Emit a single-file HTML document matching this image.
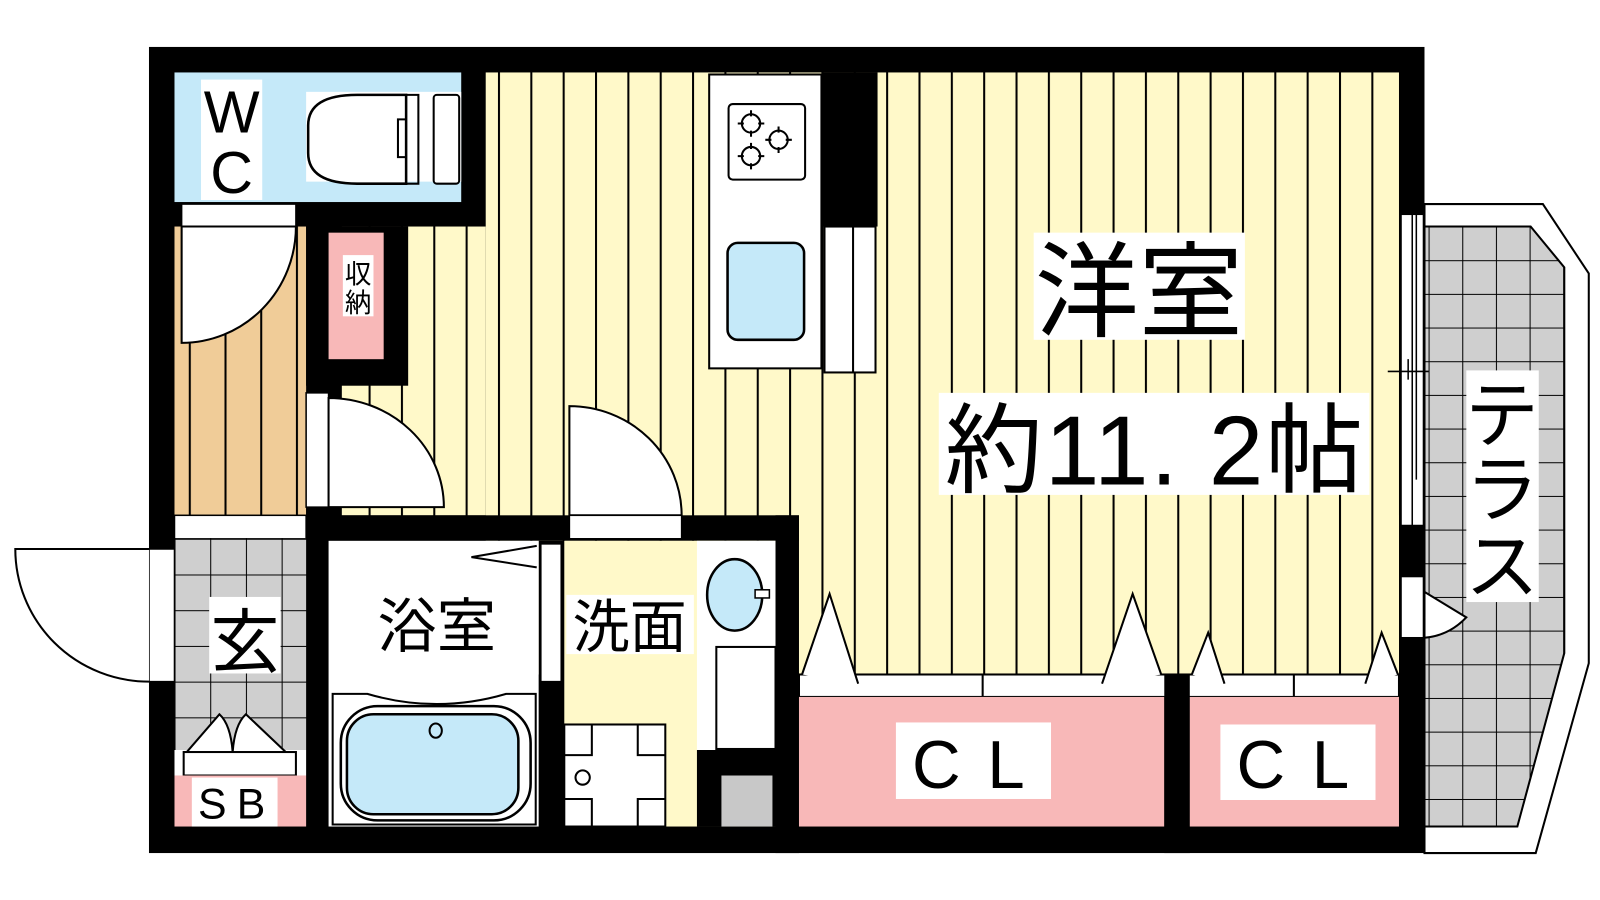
<!DOCTYPE html>
<html><head><meta charset="utf-8"><style>
html,body{margin:0;padding:0;background:#fff}
svg{display:block}
text{font-family:"Liberation Sans","Noto Sans CJK JP",sans-serif;fill:#000}
</style></head><body>
<svg width="1600" height="900" viewBox="0 0 1568 882" preserveAspectRatio="none" xmlns="http://www.w3.org/2000/svg">
<defs>
<pattern id="st" x="488" y="0" width="31.7" height="10" patternUnits="userSpaceOnUse">
<rect width="31.7" height="10" fill="#fff9c9"/><line x1="1" y1="0" x2="1" y2="10" stroke="#000" stroke-width="2"/></pattern>
<pattern id="sto" x="185" y="0" width="35" height="10" patternUnits="userSpaceOnUse">
<rect width="35" height="10" fill="#f0cc98"/><line x1="1" y1="0" x2="1" y2="10" stroke="#000" stroke-width="2"/></pattern>
<pattern id="tile" x="171" y="528" width="35" height="35" patternUnits="userSpaceOnUse">
<rect width="35" height="35" fill="#cfcfcf"/><path d="M0 0H35M0 0V35" stroke="#000" stroke-width="2"/></pattern>
<pattern id="tile2" x="1400" y="222" width="33" height="33" patternUnits="userSpaceOnUse">
<rect width="33" height="33" fill="#cfcfcf"/><path d="M0 0H33M0 0V33" stroke="#000" stroke-width="2"/></pattern>
</defs>

<polygon points="1396,200 1512,200 1557,268 1557,650 1505,836 1396,836" fill="#fff" stroke="#000" stroke-width="2"/>
<polygon points="1396,222 1500,222 1533,262 1533,640 1487,810 1396,810" fill="url(#tile2)" stroke="#000" stroke-width="2"/>

<rect x="146" y="46" width="1250" height="790" fill="#000"/>

<rect x="476" y="71" width="895" height="590" fill="url(#st)"/>
<rect x="335" y="222" width="141" height="283" fill="url(#st)"/>
<rect x="783" y="505" width="588" height="156" fill="url(#st)"/>

<rect x="171" y="71" width="281" height="127" fill="#c5e9f9"/>
<rect x="197" y="78" width="60" height="118" fill="#fff"/>
<text x="227" y="130" font-size="58" text-anchor="middle">W</text>
<text x="227" y="189" font-size="58" text-anchor="middle">C</text>
<rect x="300" y="90" width="152" height="88" fill="#fff"/>
<path d="M350,93 H398 V180 H350 Q302,180 302,150 V123 Q302,93 350,93Z" fill="#fff" stroke="#000" stroke-width="2.5"/>
<path d="M398,93 H410 V180 H398 M398,117 H390 V154 H398" fill="none" stroke="#000" stroke-width="2"/>
<rect x="425" y="93" width="25" height="87" rx="3" fill="#fff" stroke="#000" stroke-width="2"/>

<rect x="178" y="200" width="112" height="22" fill="#fff" stroke="#000" stroke-width="1.5"/>
<rect x="171" y="222" width="129" height="283" fill="url(#sto)"/>
<path d="M178,222 V336 A112,114 0 0 0 290,222 Z" fill="#fff" stroke="#000" stroke-width="2"/>
<rect x="171" y="505" width="129" height="23" fill="#fff" stroke="#000" stroke-width="1.5"/>

<rect x="300" y="222" width="100" height="156" fill="#000"/>
<rect x="322" y="228" width="54" height="124" fill="#f8b8b8"/>
<rect x="336" y="250" width="30" height="60" fill="#fff"/>
<text x="351" y="278" font-size="26" text-anchor="middle">収</text>
<text x="351" y="306" font-size="26" text-anchor="middle">納</text>

<rect x="300" y="385" width="22" height="112" fill="#fff" stroke="#000" stroke-width="1.5"/>
<path d="M322,390 V497 H435 A113,107 0 0 0 322,390 Z" fill="#fff" stroke="#000" stroke-width="2"/>

<rect x="695" y="73" width="110" height="288" fill="#fff" stroke="#000" stroke-width="2"/>
<rect x="714" y="102" width="75" height="74" rx="4" fill="#fff" stroke="#000" stroke-width="2"/>
<g fill="none" stroke="#000" stroke-width="2">
<circle cx="736" cy="121" r="9"/><circle cx="763" cy="137" r="9"/><circle cx="736" cy="153" r="9"/>
<path d="M736,108v6m0,14v6M723,121h6m14,0h6M763,124v6m0,14v6M750,137h6m14,0h6M736,140v6m0,14v6M723,153h6m14,0h6"/>
</g>
<rect x="713" y="238" width="75" height="95" rx="10" fill="#c5e9f9" stroke="#000" stroke-width="2.5"/>
<rect x="805" y="71" width="55" height="151" fill="#000"/>
<rect x="808" y="222" width="50" height="143" fill="#fff" stroke="#000" stroke-width="2"/>
<line x1="836" y1="222" x2="836" y2="365" stroke="#000" stroke-width="2"/>

<path d="M558,398 V505 H668 A110,107 0 0 0 558,398 Z" fill="#fff" stroke="#000" stroke-width="2"/>

<rect x="300" y="505" width="483" height="25" fill="#000"/>
<rect x="300" y="497" width="22" height="313" fill="#000"/>
<rect x="558" y="505" width="110" height="23" fill="#fff" stroke="#000" stroke-width="1.5"/>

<rect x="322" y="530" width="206" height="280" fill="#fff"/>
<rect x="528" y="530" width="25" height="280" fill="#000"/>
<rect x="530" y="533" width="20" height="135" fill="#fff" stroke="#000" stroke-width="1.5"/>
<path d="M526,535 L462,546 L526,556" fill="none" stroke="#000" stroke-width="2"/>
<text x="428" y="634" font-size="58" text-anchor="middle">浴室</text>
<path d="M326,808 V680 H360 Q428,700 496,680 H525 V808Z" fill="#fff" stroke="#000" stroke-width="2"/>
<rect x="334" y="692" width="186" height="112" rx="36" fill="none" stroke="#000" stroke-width="2.5"/>
<rect x="340" y="700" width="168" height="98" rx="26" fill="#c5e9f9" stroke="#000" stroke-width="2.5"/>
<ellipse cx="427" cy="716" rx="6" ry="7" fill="none" stroke="#000" stroke-width="2"/>

<rect x="553" y="530" width="207" height="280" fill="#fff9c9"/>
<rect x="683" y="530" width="77" height="205" fill="#fff"/>
<ellipse cx="720" cy="583" rx="27" ry="35" fill="#c5e9f9" stroke="#000" stroke-width="2.5"/>
<rect x="740" y="578" width="14" height="8" fill="#fff" stroke="#000" stroke-width="1.5"/>
<rect x="702" y="634" width="58" height="100" fill="#fff" stroke="#000" stroke-width="2"/>
<rect x="683" y="735" width="77" height="75" fill="#000"/>
<rect x="707" y="760" width="50" height="50" fill="#c8c8c8"/>
<rect x="553" y="710" width="99" height="100" fill="#fff" stroke="#000" stroke-width="2"/>
<path d="M580,710v30h-27M625,710v30h27M580,810v-27h-27M625,810v-27h27" fill="none" stroke="#000" stroke-width="2"/>
<circle cx="571" cy="762" r="7" fill="none" stroke="#000" stroke-width="2"/>
<rect x="555" y="583" width="125" height="58" fill="#fff"/>
<text x="617" y="634" font-size="56" text-anchor="middle">洗面</text>
<rect x="760" y="505" width="23" height="331" fill="#000"/>

<rect x="171" y="528" width="129" height="207" fill="url(#tile)"/>
<rect x="205" y="585" width="70" height="75" fill="#fff"/>
<text x="240" y="653" font-size="68" text-anchor="middle">玄</text>
<rect x="171" y="735" width="129" height="25" fill="#fff"/>
<path d="M183,737 L215,700 Q226,710 228,737 Q230,710 241,700 L280,737" fill="#fff" stroke="#000" stroke-width="2"/>
<rect x="180" y="737" width="110" height="23" fill="#fff" stroke="#000" stroke-width="2"/>
<rect x="171" y="760" width="129" height="50" fill="#f8b8b8"/>
<rect x="188" y="762" width="84" height="48" fill="#fff"/>
<text x="232" y="802" font-size="42" text-anchor="middle" letter-spacing="10">SB</text>

<rect x="146" y="538" width="25" height="130" fill="#fff" stroke="#000" stroke-width="1.5"/>
<path d="M146,538 H15 A131,130 0 0 0 146,668" fill="#fff" stroke="#000" stroke-width="2"/>

<rect x="783" y="661" width="588" height="22" fill="#fff" stroke="#000" stroke-width="2"/>
<path d="M963,661v22M1268,661v22" stroke="#000" stroke-width="2"/>
<rect x="783" y="683" width="358" height="127" fill="#f8b8b8"/>
<rect x="1141" y="661" width="25" height="175" fill="#000"/>
<rect x="1166" y="683" width="205" height="127" fill="#f8b8b8"/>
<g fill="#fff" stroke="#000" stroke-width="2">
<path d="M786,661 L813,582 L841,670"/>
<path d="M1080,670 L1110,582 L1138,661"/>
<path d="M1168,661 L1184,620 L1200,670"/>
<path d="M1338,670 L1354,620 L1370,661"/>
</g>
<rect x="878" y="708" width="152" height="75" fill="#fff"/>
<text x="962" y="772" font-size="66" text-anchor="middle" letter-spacing="26">CL</text>
<rect x="1196" y="710" width="152" height="74" fill="#fff"/>
<text x="1280" y="772" font-size="66" text-anchor="middle" letter-spacing="26">CL</text>

<rect x="1013" y="228" width="207" height="105" fill="#fff"/>
<text x="1116" y="322" font-size="102" text-anchor="middle">洋室</text>
<rect x="920" y="385" width="422" height="100" fill="#fff"/>
<text x="1131" y="475" font-size="96" text-anchor="middle" textLength="410" lengthAdjust="spacing">約11. 2帖</text>

<rect x="1373" y="210" width="22" height="305" fill="#fff" stroke="#000" stroke-width="1.5"/>
<path d="M1384,210v305M1388,210v260" stroke="#000" stroke-width="1.5"/>
<path d="M1360,364h40M1380,352v20" stroke="#000" stroke-width="1.5"/>
<rect x="1373" y="565" width="22" height="60" fill="#fff" stroke="#000" stroke-width="1.5"/>
<path d="M1396,580 L1437,605 Q1420,623 1396,625 Z" fill="#fff" stroke="#000" stroke-width="2"/>
<rect x="1437" y="363" width="71" height="227" fill="#fff"/>
<text x="1472" y="432" font-size="72" text-anchor="middle">テ</text>
<text x="1472" y="505" font-size="72" text-anchor="middle">ラ</text>
<text x="1472" y="580" font-size="72" text-anchor="middle">ス</text>
</svg>
</body></html>
